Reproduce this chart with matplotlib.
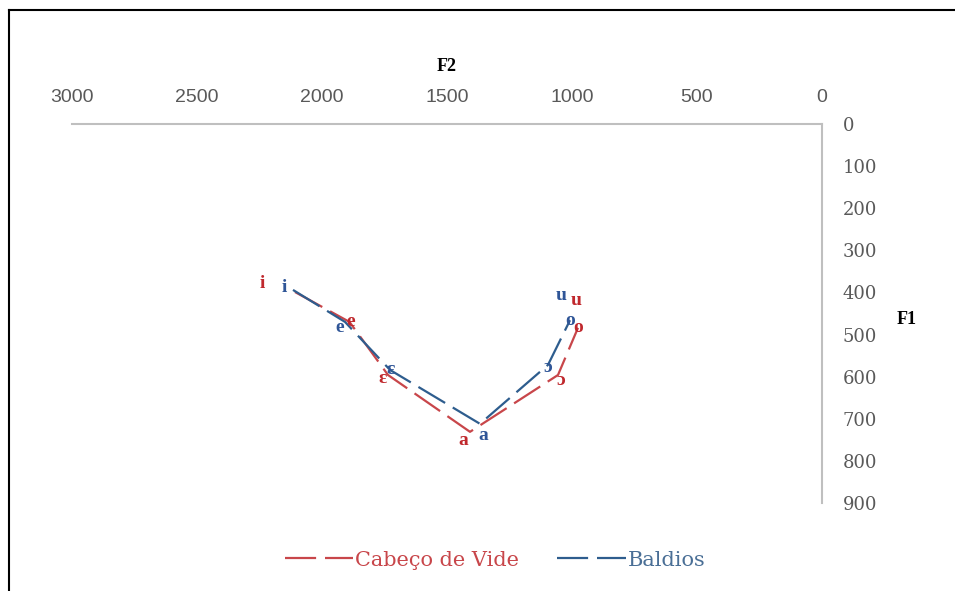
import matplotlib
matplotlib.use("Agg")
import matplotlib.pyplot as plt
from matplotlib.lines import Line2D

# vowel formants (Hz)
vowels = ["i", "e", "ɛ", "a", "ɔ", "o", "u"]
cabeco_f2 = [2108, 1890, 1736, 1408, 1056, 976, 984]
cabeco_f1 = [399, 470, 596, 731, 596, 484, 418]
baldios_f2 = [2116, 1908, 1728, 1368, 1096, 1008, 1028]
baldios_f1 = [394, 470, 584, 712, 572, 466, 418]

f2_ticks = [3000, 2500, 2000, 1500, 1000, 500, 0]
f1_ticks = [0, 100, 200, 300, 400, 500, 600, 700, 800, 900]

red = "#C8464A"
blue = "#2E5D8E"
red_txt = "#C0282D"
blue_txt = "#2F5597"

# label offsets in pixels (dx, dy) relative to each point, dy up
red_off = [(-33, 9), (1, 0), (-5, -4), (-7, -9), (3, -6), (0, 0), (0, 0)]
blue_off = [(-9, 2), (-5, -6), (1, 0), (3, -12), (0, -3), (0, 0), (-4, 5)]

fig = plt.figure(figsize=(9.55, 5.91), dpi=100)
ax = fig.add_axes([72 / 955, 1 - 503 / 591, 750 / 955, 379 / 591])

ax.set_xlim(3000, 0)
ax.set_ylim(900, 0)

ls = (0, (14, 4))
ax.plot(cabeco_f2[:6], cabeco_f1[:6], color=red, lw=1.6, ls=ls, label="Cabeço de Vide")
ax.plot(baldios_f2[:6], baldios_f1[:6], color=blue, lw=1.6, ls=ls, label="Baldios")

for k, v in enumerate(vowels):
    ax.annotate(v, (cabeco_f2[k], cabeco_f1[k]), xytext=(red_off[k][0] * 0.72, red_off[k][1] * 0.72),
                textcoords="offset points", ha="center", va="center", color=red_txt,
                fontsize=14, fontweight="bold", family="Liberation Serif")
    ax.annotate(v, (baldios_f2[k], baldios_f1[k]), xytext=(blue_off[k][0] * 0.72, blue_off[k][1] * 0.72),
                textcoords="offset points", ha="center", va="center", color=blue_txt,
                fontsize=14, fontweight="bold", family="Liberation Serif")

for s in ["left", "bottom"]:
    ax.spines[s].set_visible(False)
for s in ["top", "right"]:
    ax.spines[s].set_color("#BFBFBF")
    ax.spines[s].set_linewidth(1.5)

ax.xaxis.tick_top()
ax.yaxis.tick_right()
ax.set_xticks(f2_ticks)
ax.set_yticks(f1_ticks)
ax.tick_params(length=0, colors="#595959")
ax.tick_params(axis="x", pad=13, labelsize=14)
ax.tick_params(axis="y", pad=15, labelsize=13)
for t in ax.get_xticklabels():
    t.set_family("Liberation Sans")
for t in ax.get_yticklabels():
    t.set_family("DejaVu Serif")

ax.set_xlabel("F2", fontweight="bold", family="Liberation Serif", fontsize=13, labelpad=13)
ax.xaxis.set_label_position("top")
ax.set_ylabel("F1", fontweight="bold", family="Liberation Serif", fontsize=13, rotation=0)
ax.yaxis.set_label_position("right")
ax.yaxis.set_label_coords(1.113, 0.507)

leg = fig.legend(loc="center", bbox_to_anchor=(495 / 955, 1 - 560 / 591), ncol=2, frameon=False,
                 handlelength=3.3, handletextpad=0.1, columnspacing=1.8,
                 prop={"family": "DejaVu Serif", "size": 15})
for txt, c in zip(leg.get_texts(), [red, "#4A6F96"]):
    txt.set_color(c)

# outer frame on top and left edges
fig.add_artist(Line2D([9 / 955, 1], [1 - 10 / 591, 1 - 10 / 591], color="black", lw=1.5, transform=fig.transFigure))
fig.add_artist(Line2D([9 / 955, 9 / 955], [0, 1 - 10 / 591], color="black", lw=1.5, transform=fig.transFigure))

fig.savefig("out.png", dpi=100, facecolor="white")
